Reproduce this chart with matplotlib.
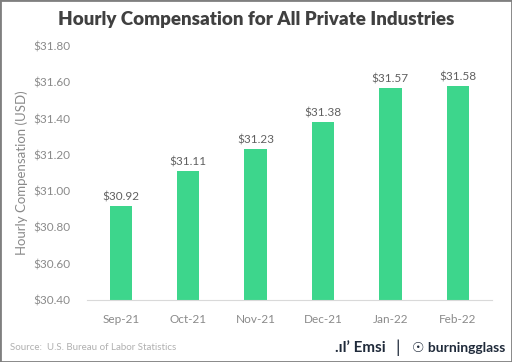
import matplotlib
matplotlib.use('Agg')
import matplotlib.pyplot as plt
from matplotlib.patches import Rectangle

# data
months = ['Sep-21', 'Oct-21', 'Nov-21', 'Dec-21', 'Jan-22', 'Feb-22']
comp = [30.92, 31.11, 31.23, 31.38, 31.57, 31.58]
yticks = [30.40, 30.60, 30.80, 31.00, 31.20, 31.40, 31.60, 31.80]

plt.rcParams['font.family'] = ['Lato', 'DejaVu Sans']

fig = plt.figure(figsize=(5.12, 3.62), dpi=100)
ax = fig.add_axes([0.17, 0.171, 0.79, 0.702])

ax.bar(months, comp, width=0.33, color='#3DD68C')

for i, v in enumerate(comp):
    ax.text(i, v + 0.02, '$%.2f' % v, ha='center', va='bottom', fontsize=8.5, color='#606060')

ax.set_ylim(30.40, 31.80)
ax.set_xlim(-0.5, 5.5)
ax.set_yticks(yticks)
ax.set_yticklabels(['$%.2f' % t for t in yticks])
ax.tick_params(axis='both', length=0, labelsize=8.5, colors='#8a8a8a')
ax.tick_params(axis='y', pad=12)
ax.tick_params(axis='x', pad=10)
for s in ['top', 'right', 'left']:
    ax.spines[s].set_visible(False)
ax.spines['bottom'].set_color('#d9d9d9')
ax.set_ylabel('Hourly Compensation (USD)', fontsize=9.5, color='#8a8a8a', labelpad=4)

fig.text(0.5, 0.945, 'Hourly Compensation for All Private Industries', ha='center', va='center',
         fontsize=13.5, fontweight='heavy', color='#404040')
fig.text(0.02, 0.04, 'Source:  U.S. Bureau of Labor Statistics', fontsize=7, color='#b0b0b0', va='center')
fig.text(0.655, 0.04, '.ıl\u2019 Emsi', fontsize=11, fontweight='bold', color='#1f2a3a', va='center')
fig.text(0.772, 0.04, '|', fontsize=13, color='#1f2a3a', va='center')
fig.text(0.988, 0.04, '\u2609 burningglass', fontsize=10, fontweight='bold', color='#1f2a3a',
         va='center', ha='right')

fig.patches.append(Rectangle((0, 0), 1, 1, transform=fig.transFigure, fill=False,
                             edgecolor='#7f7f7f', linewidth=2))

fig.savefig('out.png', dpi=100)
